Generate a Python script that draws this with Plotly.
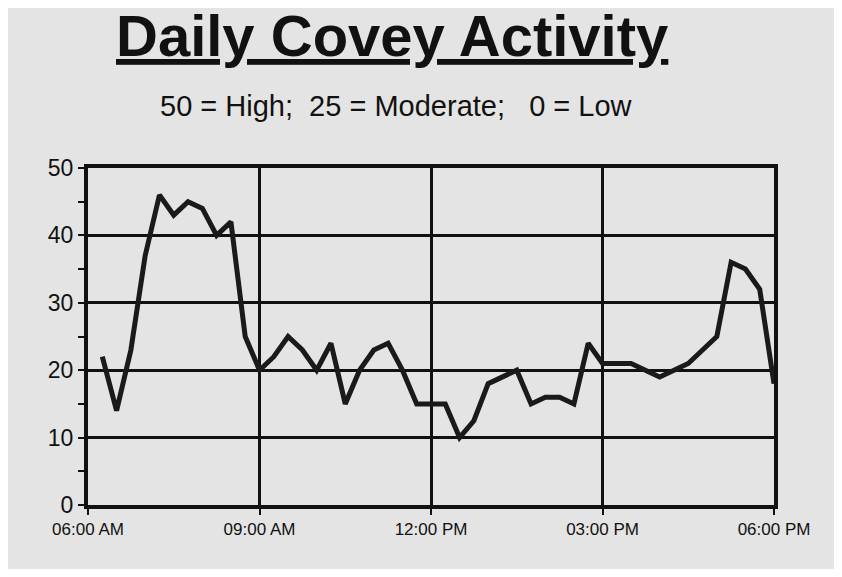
import plotly.graph_objects as go

times = ["06:15", "06:30", "06:45", "07:00", "07:15", "07:30", "07:45", "08:00", "08:15", "08:30",
         "08:45", "09:00", "09:15", "09:30", "09:45", "10:00", "10:15", "10:30", "10:45", "11:00",
         "11:15", "11:30", "11:45", "12:00", "12:15", "12:30", "12:45", "13:00", "13:15", "13:30",
         "13:45", "14:00", "14:15", "14:30", "14:45", "15:00", "15:15", "15:30", "15:45", "16:00",
         "16:15", "16:30", "16:45", "17:00", "17:15", "17:30", "17:45", "18:00"]
activity = [22, 14, 23, 37, 46, 43, 45, 44, 40, 42,
            25, 20, 22, 25, 23, 20, 24, 15, 20, 23,
            24, 20, 15, 15, 15, 10, 12.5, 18, 19, 20,
            15, 16, 16, 15, 24, 21, 21, 21, 20, 19,
            20, 21, 23, 25, 36, 35, 32, 18]
tick_times = ["06:00", "09:00", "12:00", "15:00", "18:00"]
tick_labels = ["06:00 AM", "09:00 AM", "12:00 PM", "03:00 PM", "06:00 PM"]

day = "2000-01-01 "
fig = go.Figure()
fig.add_trace(go.Scatter(x=[day + t for t in times], y=activity, mode="lines",
                         line=dict(color="#1a1a1a", width=5), showlegend=False))

fig.update_layout(
    width=826, height=561,
    margin=dict(l=80, r=60, t=160, b=64),
    paper_bgcolor="#e4e4e4", plot_bgcolor="#e4e4e4",
    font=dict(family="Liberation Sans, Arial", color="#111"),
    annotations=[
        dict(text="<b><u>Daily Covey Activity</u></b>", x=0.443, y=1.0, xref="paper", yref="paper",
             yanchor="bottom", yshift=98, showarrow=False, font=dict(size=58, color="#111")),
        dict(text="50 = High;  25 = Moderate;   0 = Low", x=0.45, y=1.0, xref="paper", yref="paper",
             yanchor="bottom", yshift=44, showarrow=False, font=dict(size=29, color="#111")),
    ],
)
fig.update_xaxes(
    type="date", range=[day + "06:00", day + "18:00"],
    tickvals=[day + t for t in tick_times], ticktext=tick_labels,
    showgrid=True, gridcolor="#111", gridwidth=2.5,
    showline=True, linecolor="#111", linewidth=4, mirror=True,
    ticks="outside", ticklen=6, tickwidth=2, tickcolor="#111",
    tickfont=dict(size=17), zeroline=False,
)
fig.update_yaxes(
    range=[0, 50], tickvals=[0, 10, 20, 30, 40, 50],
    showgrid=True, gridcolor="#111", gridwidth=2.5,
    showline=True, linecolor="#111", linewidth=4, mirror=True,
    ticks="outside", ticklen=6, tickwidth=2, tickcolor="#111",
    minor=dict(dtick=5, ticks="outside", ticklen=6, tickcolor="#111", showgrid=False),
    tickfont=dict(size=23), zeroline=False,
)

fig.write_html("out.html")
